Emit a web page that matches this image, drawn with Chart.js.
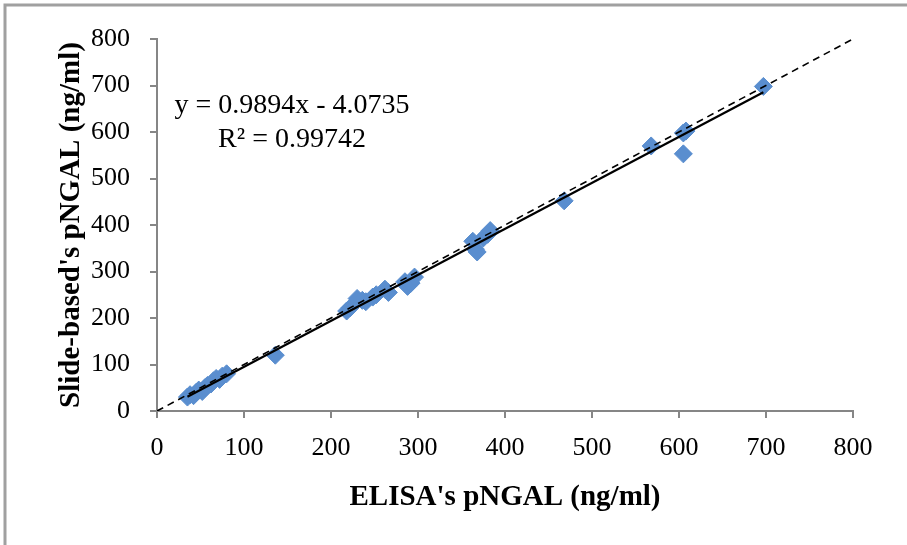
<!DOCTYPE html>
<html>
<head>
<meta charset="utf-8">
<script src="https://cdn.jsdelivr.net/npm/chart.js@4/dist/chart.umd.min.js"></script>
<style>
  html, body { margin: 0; padding: 0; background: #fff; }
</style>
</head>
<body>
<canvas id="pngalChart" width="907" height="545"></canvas>
<script>
// ELISA vs slide-based pNGAL (ng/ml), one entry per sample
const elisa = [35, 38, 42, 45, 48, 52, 55, 58, 62, 65, 68, 72, 75, 80,
               136,
               218, 222, 230, 236, 240, 248, 252, 262, 266, 285, 288, 292, 296,
               363, 366, 368, 375, 380, 383,
               468, 568, 605, 605, 608, 697];
const slide = [30, 35, 33, 40, 45, 42, 50, 55, 58, 65, 70, 68, 75, 80,
               120,
               215, 222, 242, 238, 235, 245, 250, 262, 255, 278, 268, 275, 288,
               365, 348, 342, 372, 380, 388,
               452, 570, 553, 598, 602, 698];

const xTicks = [0, 100, 200, 300, 400, 500, 600, 700, 800];
const yTicks = [0, 100, 200, 300, 400, 500, 600, 700, 800];

// linear fit reported on the plot
const slope = 0.9894;
const intercept = -4.0735;
const rSquared = 0.99742;

// reference line y = x
const identityX = [0, 800];

const serif = "'Liberation Serif', 'Times New Roman', serif";
const axisGray = '#868686';

const points = elisa.map((x, i) => ({ x: x, y: slide[i] }));
const xMin = Math.min(...elisa);
const xMax = Math.max(...elisa);
const fitLine = [xMin, xMax].map(x => ({ x: x, y: slope * x + intercept }));
const idLine = identityX.map(x => ({ x: x, y: x }));

const framePlugin = {
    id: 'frame',
    beforeDraw(chart) {
        const ctx = chart.ctx;
        ctx.save();
        ctx.fillStyle = '#fff';
        ctx.fillRect(0, 0, chart.width, chart.height);
        ctx.strokeStyle = '#a0a0a0';
        ctx.lineWidth = 3;
        ctx.beginPath();
        ctx.moveTo(5, chart.height);
        ctx.lineTo(5, 5);
        ctx.lineTo(chart.width, 5);
        ctx.stroke();
        ctx.restore();
    }
};

const equationPlugin = {
    id: 'equation',
    afterDatasetsDraw(chart) {
        const ctx = chart.ctx;
        const area = chart.chartArea;
        const cx = area.left + 135;
        ctx.save();
        ctx.fillStyle = '#000';
        ctx.font = '28px ' + serif;
        ctx.textAlign = 'center';
        ctx.textBaseline = 'middle';
        ctx.fillText('y = ' + slope + 'x - ' + Math.abs(intercept), cx, area.top + 67);
        ctx.fillText('R\u00B2 = ' + rSquared, cx, area.top + 101);
        ctx.restore();
    }
};

function axisOptions(ticks, title, titlePadding, tickPadding) {
    return {
        type: 'linear',
        min: 0,
        max: 800,
        afterBuildTicks: s => { s.ticks = ticks.map(v => ({ value: v })); },
        border: { display: true, color: axisGray, width: 2 },
        grid: { drawOnChartArea: false, drawTicks: true, tickLength: 7, color: axisGray, lineWidth: 2 },
        ticks: { color: '#000', font: { family: serif, size: 26 }, padding: tickPadding, maxRotation: 0 },
        title: { display: true, text: title, color: '#000',
                 font: { family: serif, size: 29, weight: 'bold' }, padding: titlePadding }
    };
}

const xAxis = axisOptions(xTicks, "ELISA's pNGAL (ng/ml)", { top: 0, bottom: 30 }, 15);
xAxis.afterFit = s => { s.height = 134; };
const yAxis = axisOptions(yTicks, "Slide-based's pNGAL (ng/ml)", { top: 54, bottom: 0 }, 20);
yAxis.afterFit = s => { s.width = 157; };

new Chart(document.getElementById('pngalChart').getContext('2d'), {
    type: 'scatter',
    data: {
        datasets: [{
            label: 'Linear fit',
            data: fitLine,
            showLine: true,
            borderColor: '#000',
            borderWidth: 2.2,
            pointRadius: 0,
            order: 1
        }, {
            label: 'y = x',
            data: idLine,
            showLine: true,
            borderColor: '#000',
            borderWidth: 1.6,
            borderDash: [7, 5],
            pointRadius: 0,
            order: 2
        }, {
            label: 'Samples',
            data: points,
            pointStyle: 'rectRot',
            pointRadius: 9,
            backgroundColor: '#5a8ecf',
            borderColor: '#5a8ecf',
            borderWidth: 1,
            order: 3
        }]
    },
    options: {
        responsive: false,
        animation: false,
        devicePixelRatio: 1,
        layout: { padding: { left: 0, right: 54, top: 39, bottom: 0 } },
        plugins: {
            legend: { display: false },
            tooltip: { enabled: false }
        },
        scales: { x: xAxis, y: yAxis }
    },
    plugins: [framePlugin, equationPlugin]
});
</script>
</body>
</html>
